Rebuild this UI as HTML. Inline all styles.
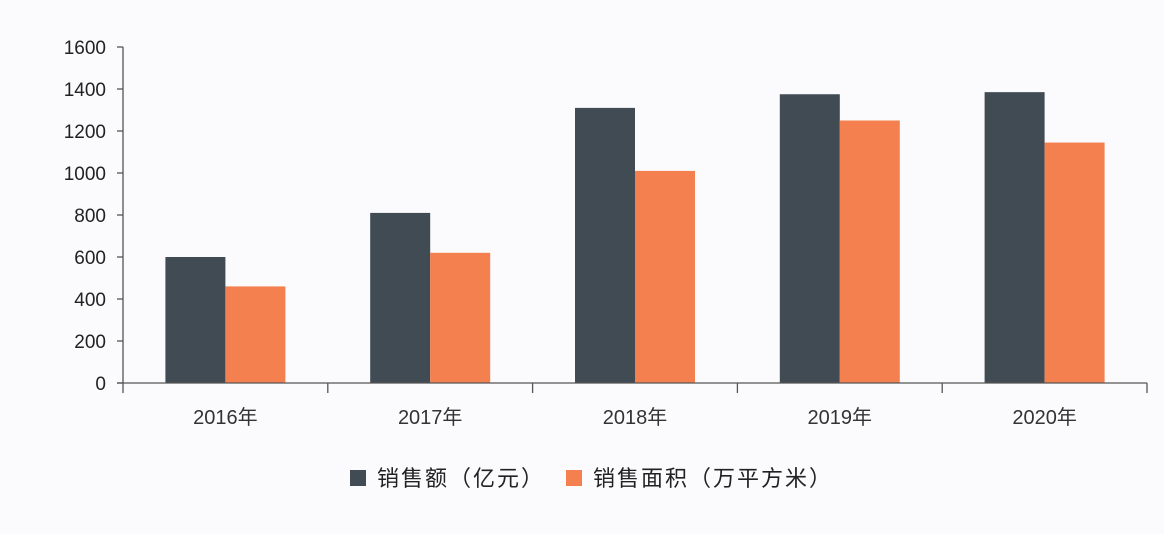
<!DOCTYPE html>
<html><head><meta charset="utf-8"><style>
html,body{margin:0;padding:0;background:#fbfbfd;}
svg{display:block;font-family:"Liberation Sans","Noto Sans CJK SC",sans-serif;}
</style></head><body>
<svg id="c" width="1164" height="534"></svg>
<script>
const categories=["2016年","2017年","2018年","2019年","2020年"];
const salesAmount=[600,810,1310,1375,1385];
const salesArea=[460,620,1010,1250,1145];
const yTicks=[0,200,400,600,800,1000,1200,1400,1600];
const seriesNames=["销售额（亿元）","销售面积（万平方米）"];
const colors=["#414b54","#f5804f"];
const svg=document.getElementById('c');
const NS="http://www.w3.org/2000/svg";
const x0=123,x1=1147,y0=383,yTop=47,yMax=1600;
const y=v=>y0-(v/yMax)*(y0-yTop);
const bandW=(x1-x0)/categories.length;
const bx=i=>x0+i*bandW;
function el(t,a,txt){const e=document.createElementNS(NS,t);for(const k in a)e.setAttribute(k,a[k]);if(txt!==undefined)e.textContent=txt;svg.appendChild(e);return e;}
// y axis
let ax=el('line',{x1:x0,y1:yTop,x2:x0,y2:y0,stroke:'#555','stroke-width':1.3});


yTicks.forEach(v=>{
  let t=el('line',{x1:x0-6,y1:y(v),x2:x0,y2:y(v),stroke:'#555','stroke-width':1.3});
  
  
  let l=el('text',{x:106,y:y(v)+7,'text-anchor':'end','font-size':19,fill:'#222'},v);
  
  
});
// bars
const bw=60;
categories.forEach((c,i)=>{
  const cx=bx(i)+bandW/2;
  [salesAmount,salesArea].forEach((s,j)=>{
    const r=el('rect',{x:cx-bw+j*bw,y:y(s[i]),width:bw,height:y0-y(s[i]),fill:colors[j]});
    
    
  });
  const l=el('text',{x:cx,y:424,'text-anchor':'middle','font-size':20,fill:'#333'},c);
  
  
});
// x axis
let xa=el('line',{x1:x0-6,y1:y0,x2:x1,y2:y0,stroke:'#555','stroke-width':1.3});


for(let i=0;i<=categories.length;i++){
  let t=el('line',{x1:bx(i),y1:y0,x2:bx(i),y2:y0+10,stroke:'#555','stroke-width':1.3});
  
  
}
// legend
const lx=[350,566];
seriesNames.forEach((n,j)=>{
  let r=el('rect',{x:lx[j],y:470,width:16,height:16,fill:colors[j]});
  
  
  let t=el('text',{x:lx[j]+27,y:486,'font-size':22,fill:'#222','letter-spacing':2},n);
  
  
});
</script>
</body></html>
